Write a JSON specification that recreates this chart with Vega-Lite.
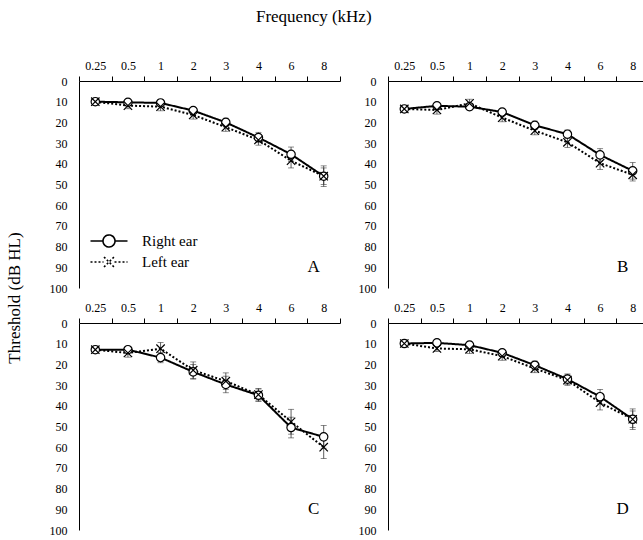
{
"$schema":"https://vega.github.io/schema/vega-lite/v6.json",
"background":"white",
"padding":{"left":5,"top":8,"right":0,"bottom":0},
"bounds":"flush",
"spacing":{"row":35,"column":48},
"title":{"text":"Frequency (kHz)","font":"Liberation Serif","fontSize":17,"fontWeight":"normal","color":"black","anchor":"middle","dx":-14,"offset":33},
"data":{"values":[
{"panel":"A","r":"top","c":"left","ear":"Right ear","freq":"0.25","dB":10,"err":1.5},
{"panel":"A","r":"top","c":"left","ear":"Right ear","freq":"0.5","dB":10.3,"err":1.5},
{"panel":"A","r":"top","c":"left","ear":"Right ear","freq":"1","dB":10.6,"err":1.5},
{"panel":"A","r":"top","c":"left","ear":"Right ear","freq":"2","dB":14.3,"err":1.5},
{"panel":"A","r":"top","c":"left","ear":"Right ear","freq":"3","dB":20,"err":2},
{"panel":"A","r":"top","c":"left","ear":"Right ear","freq":"4","dB":27.3,"err":2.5},
{"panel":"A","r":"top","c":"left","ear":"Right ear","freq":"6","dB":35.4,"err":3.5},
{"panel":"A","r":"top","c":"left","ear":"Right ear","freq":"8","dB":46,"err":5},
{"panel":"A","r":"top","c":"left","ear":"Left ear","freq":"0.25","dB":10,"err":1.5},
{"panel":"A","r":"top","c":"left","ear":"Left ear","freq":"0.5","dB":11.9,"err":1.5},
{"panel":"A","r":"top","c":"left","ear":"Left ear","freq":"1","dB":12.4,"err":2},
{"panel":"A","r":"top","c":"left","ear":"Left ear","freq":"2","dB":16.4,"err":2},
{"panel":"A","r":"top","c":"left","ear":"Left ear","freq":"3","dB":22.3,"err":2},
{"panel":"A","r":"top","c":"left","ear":"Left ear","freq":"4","dB":28.5,"err":2.5},
{"panel":"A","r":"top","c":"left","ear":"Left ear","freq":"6","dB":38.5,"err":3.5},
{"panel":"A","r":"top","c":"left","ear":"Left ear","freq":"8","dB":46,"err":4},
{"panel":"B","r":"top","c":"right","ear":"Right ear","freq":"0.25","dB":13.5,"err":1.5},
{"panel":"B","r":"top","c":"right","ear":"Right ear","freq":"0.5","dB":12,"err":1.5},
{"panel":"B","r":"top","c":"right","ear":"Right ear","freq":"1","dB":12.4,"err":1.5},
{"panel":"B","r":"top","c":"right","ear":"Right ear","freq":"2","dB":15,"err":1.5},
{"panel":"B","r":"top","c":"right","ear":"Right ear","freq":"3","dB":21.4,"err":2},
{"panel":"B","r":"top","c":"right","ear":"Right ear","freq":"4","dB":25.7,"err":2},
{"panel":"B","r":"top","c":"right","ear":"Right ear","freq":"6","dB":35.7,"err":3},
{"panel":"B","r":"top","c":"right","ear":"Right ear","freq":"8","dB":43.4,"err":4},
{"panel":"B","r":"top","c":"right","ear":"Left ear","freq":"0.25","dB":13.5,"err":1.5},
{"panel":"B","r":"top","c":"right","ear":"Left ear","freq":"0.5","dB":14,"err":2},
{"panel":"B","r":"top","c":"right","ear":"Left ear","freq":"1","dB":10.8,"err":2},
{"panel":"B","r":"top","c":"right","ear":"Left ear","freq":"2","dB":17.7,"err":2},
{"panel":"B","r":"top","c":"right","ear":"Left ear","freq":"3","dB":24,"err":2},
{"panel":"B","r":"top","c":"right","ear":"Left ear","freq":"4","dB":29.6,"err":2.5},
{"panel":"B","r":"top","c":"right","ear":"Left ear","freq":"6","dB":39.7,"err":3},
{"panel":"B","r":"top","c":"right","ear":"Left ear","freq":"8","dB":45.3,"err":3},
{"panel":"C","r":"bottom","c":"left","ear":"Right ear","freq":"0.25","dB":12.9,"err":1.5},
{"panel":"C","r":"bottom","c":"left","ear":"Right ear","freq":"0.5","dB":12.9,"err":1.5},
{"panel":"C","r":"bottom","c":"left","ear":"Right ear","freq":"1","dB":16.7,"err":2.5},
{"panel":"C","r":"bottom","c":"left","ear":"Right ear","freq":"2","dB":23.6,"err":3.5},
{"panel":"C","r":"bottom","c":"left","ear":"Right ear","freq":"3","dB":29.7,"err":4},
{"panel":"C","r":"bottom","c":"left","ear":"Right ear","freq":"4","dB":34.9,"err":3},
{"panel":"C","r":"bottom","c":"left","ear":"Right ear","freq":"6","dB":50.5,"err":5},
{"panel":"C","r":"bottom","c":"left","ear":"Right ear","freq":"8","dB":55,"err":5.5},
{"panel":"C","r":"bottom","c":"left","ear":"Left ear","freq":"0.25","dB":12.9,"err":1.5},
{"panel":"C","r":"bottom","c":"left","ear":"Left ear","freq":"0.5","dB":14.5,"err":2},
{"panel":"C","r":"bottom","c":"left","ear":"Left ear","freq":"1","dB":12.4,"err":3},
{"panel":"C","r":"bottom","c":"left","ear":"Left ear","freq":"2","dB":22.8,"err":4},
{"panel":"C","r":"bottom","c":"left","ear":"Left ear","freq":"3","dB":28.1,"err":4},
{"panel":"C","r":"bottom","c":"left","ear":"Left ear","freq":"4","dB":34.6,"err":3},
{"panel":"C","r":"bottom","c":"left","ear":"Left ear","freq":"6","dB":47.7,"err":6},
{"panel":"C","r":"bottom","c":"left","ear":"Left ear","freq":"8","dB":60,"err":5.5},
{"panel":"D","r":"bottom","c":"right","ear":"Right ear","freq":"0.25","dB":9.9,"err":1.5},
{"panel":"D","r":"bottom","c":"right","ear":"Right ear","freq":"0.5","dB":9.6,"err":1.5},
{"panel":"D","r":"bottom","c":"right","ear":"Right ear","freq":"1","dB":10.7,"err":1.5},
{"panel":"D","r":"bottom","c":"right","ear":"Right ear","freq":"2","dB":14.4,"err":1.5},
{"panel":"D","r":"bottom","c":"right","ear":"Right ear","freq":"3","dB":20.4,"err":2},
{"panel":"D","r":"bottom","c":"right","ear":"Right ear","freq":"4","dB":27.1,"err":2.5},
{"panel":"D","r":"bottom","c":"right","ear":"Right ear","freq":"6","dB":35.6,"err":3.5},
{"panel":"D","r":"bottom","c":"right","ear":"Right ear","freq":"8","dB":46.5,"err":5},
{"panel":"D","r":"bottom","c":"right","ear":"Left ear","freq":"0.25","dB":9.9,"err":1.5},
{"panel":"D","r":"bottom","c":"right","ear":"Left ear","freq":"0.5","dB":12.3,"err":1.5},
{"panel":"D","r":"bottom","c":"right","ear":"Left ear","freq":"1","dB":12.7,"err":2},
{"panel":"D","r":"bottom","c":"right","ear":"Left ear","freq":"2","dB":16,"err":2},
{"panel":"D","r":"bottom","c":"right","ear":"Left ear","freq":"3","dB":22,"err":2},
{"panel":"D","r":"bottom","c":"right","ear":"Left ear","freq":"4","dB":27.6,"err":2.5},
{"panel":"D","r":"bottom","c":"right","ear":"Left ear","freq":"6","dB":38.5,"err":3.5},
{"panel":"D","r":"bottom","c":"right","ear":"Left ear","freq":"8","dB":46.5,"err":4}
]},
"facet":{
 "row":{"field":"r","type":"nominal","sort":["top","bottom"],"header":{"labels":false,"title":"Threshold (dB HL)","titleFont":"Liberation Serif","titleFontSize":17,"titleFontWeight":"normal","titleColor":"black","titlePadding":45}},
 "column":{"field":"c","type":"nominal","sort":["left","right"],"header":{"labels":false,"title":null}}
},
"spec":{
 "width":261,"height":207,
 "encoding":{
  "x":{"field":"freq","type":"ordinal","sort":["0.25","0.5","1","2","3","4","6","8"],
       "scale":{"type":"band","paddingInner":0,"paddingOuter":0},
       "axis":{"orient":"top","title":null,"labelAngle":0,"tickBand":"extent","tickSize":5,"labelPadding":4,"grid":false}},
  "y":{"field":"dB","type":"quantitative","scale":{"domain":[0,100],"reverse":true,"nice":false},
       "axis":{"title":null,"values":[0,10,20,30,40,50,60,70,80,90,100],"ticks":false,"labelPadding":12,"grid":false}}
 },
 "layer":[
  {"mark":{"type":"errorbar","ticks":{"size":6},"color":"#333","thickness":0.8},
   "encoding":{"yError":{"field":"err"},"detail":{"field":"ear"}}},
  {"mark":{"type":"line","color":"black","strokeWidth":2},
   "encoding":{"strokeDash":{"field":"ear","type":"nominal","scale":{"domain":["Right ear","Left ear"],"range":[[1,0],[2,2]]},
     "legend":{"orient":"none","legendX":19,"legendY":149,"title":null,"symbolSize":400,"symbolStrokeWidth":1.6,"symbolStrokeColor":"black","symbolFillColor":"transparent","labelFont":"Liberation Serif","labelFontSize":15,"labelColor":"black","labelOffset":22,"rowPadding":0,
       "encode":{"symbols":{"update":{"shape":{"signal":"datum.value === 'Right ear' ? 'M-1.85,0H-0.6M0.6,0H1.85M0.6,0A0.6,0.6,0,1,1,-0.6,0A0.6,0.6,0,1,1,0.6,0' : 'M-1.85,0H-0.55M0.55,0H1.85M-0.5,-0.5L0.5,0.5M-0.5,0.5L0.5,-0.5'"}}}}}}}},
  {"mark":{"type":"point","strokeWidth":1.2,"opacity":1,"stroke":"black","size":70},
   "encoding":{"shape":{"condition":{"test":"datum.ear === 'Left ear'","value":"M-1,-1L1,1M-1,1L1,-1"},"value":"circle"},
     "fill":{"condition":{"test":"datum.ear === 'Left ear'","value":"transparent"},"value":"white"}}},
  {"transform":[{"filter":"datum.ear === 'Right ear' && datum.freq === '8'"}],
   "mark":{"type":"text","font":"Liberation Serif","fontSize":17,"color":"black","dx":-10,"baseline":"middle","align":"center"},
   "encoding":{"y":{"datum":90},"text":{"field":"panel"}}}
 ]
},
"resolve":{"axis":{"x":"independent","y":"independent"}},
"config":{
 "view":{"stroke":null},
 "title":{"font":"Liberation Serif"},
 "header":{"titleFont":"Liberation Serif"},
 "axis":{"labelFont":"Liberation Serif","labelFontSize":12,"labelColor":"black","domainColor":"black","tickColor":"black","domainWidth":1}
}
}
